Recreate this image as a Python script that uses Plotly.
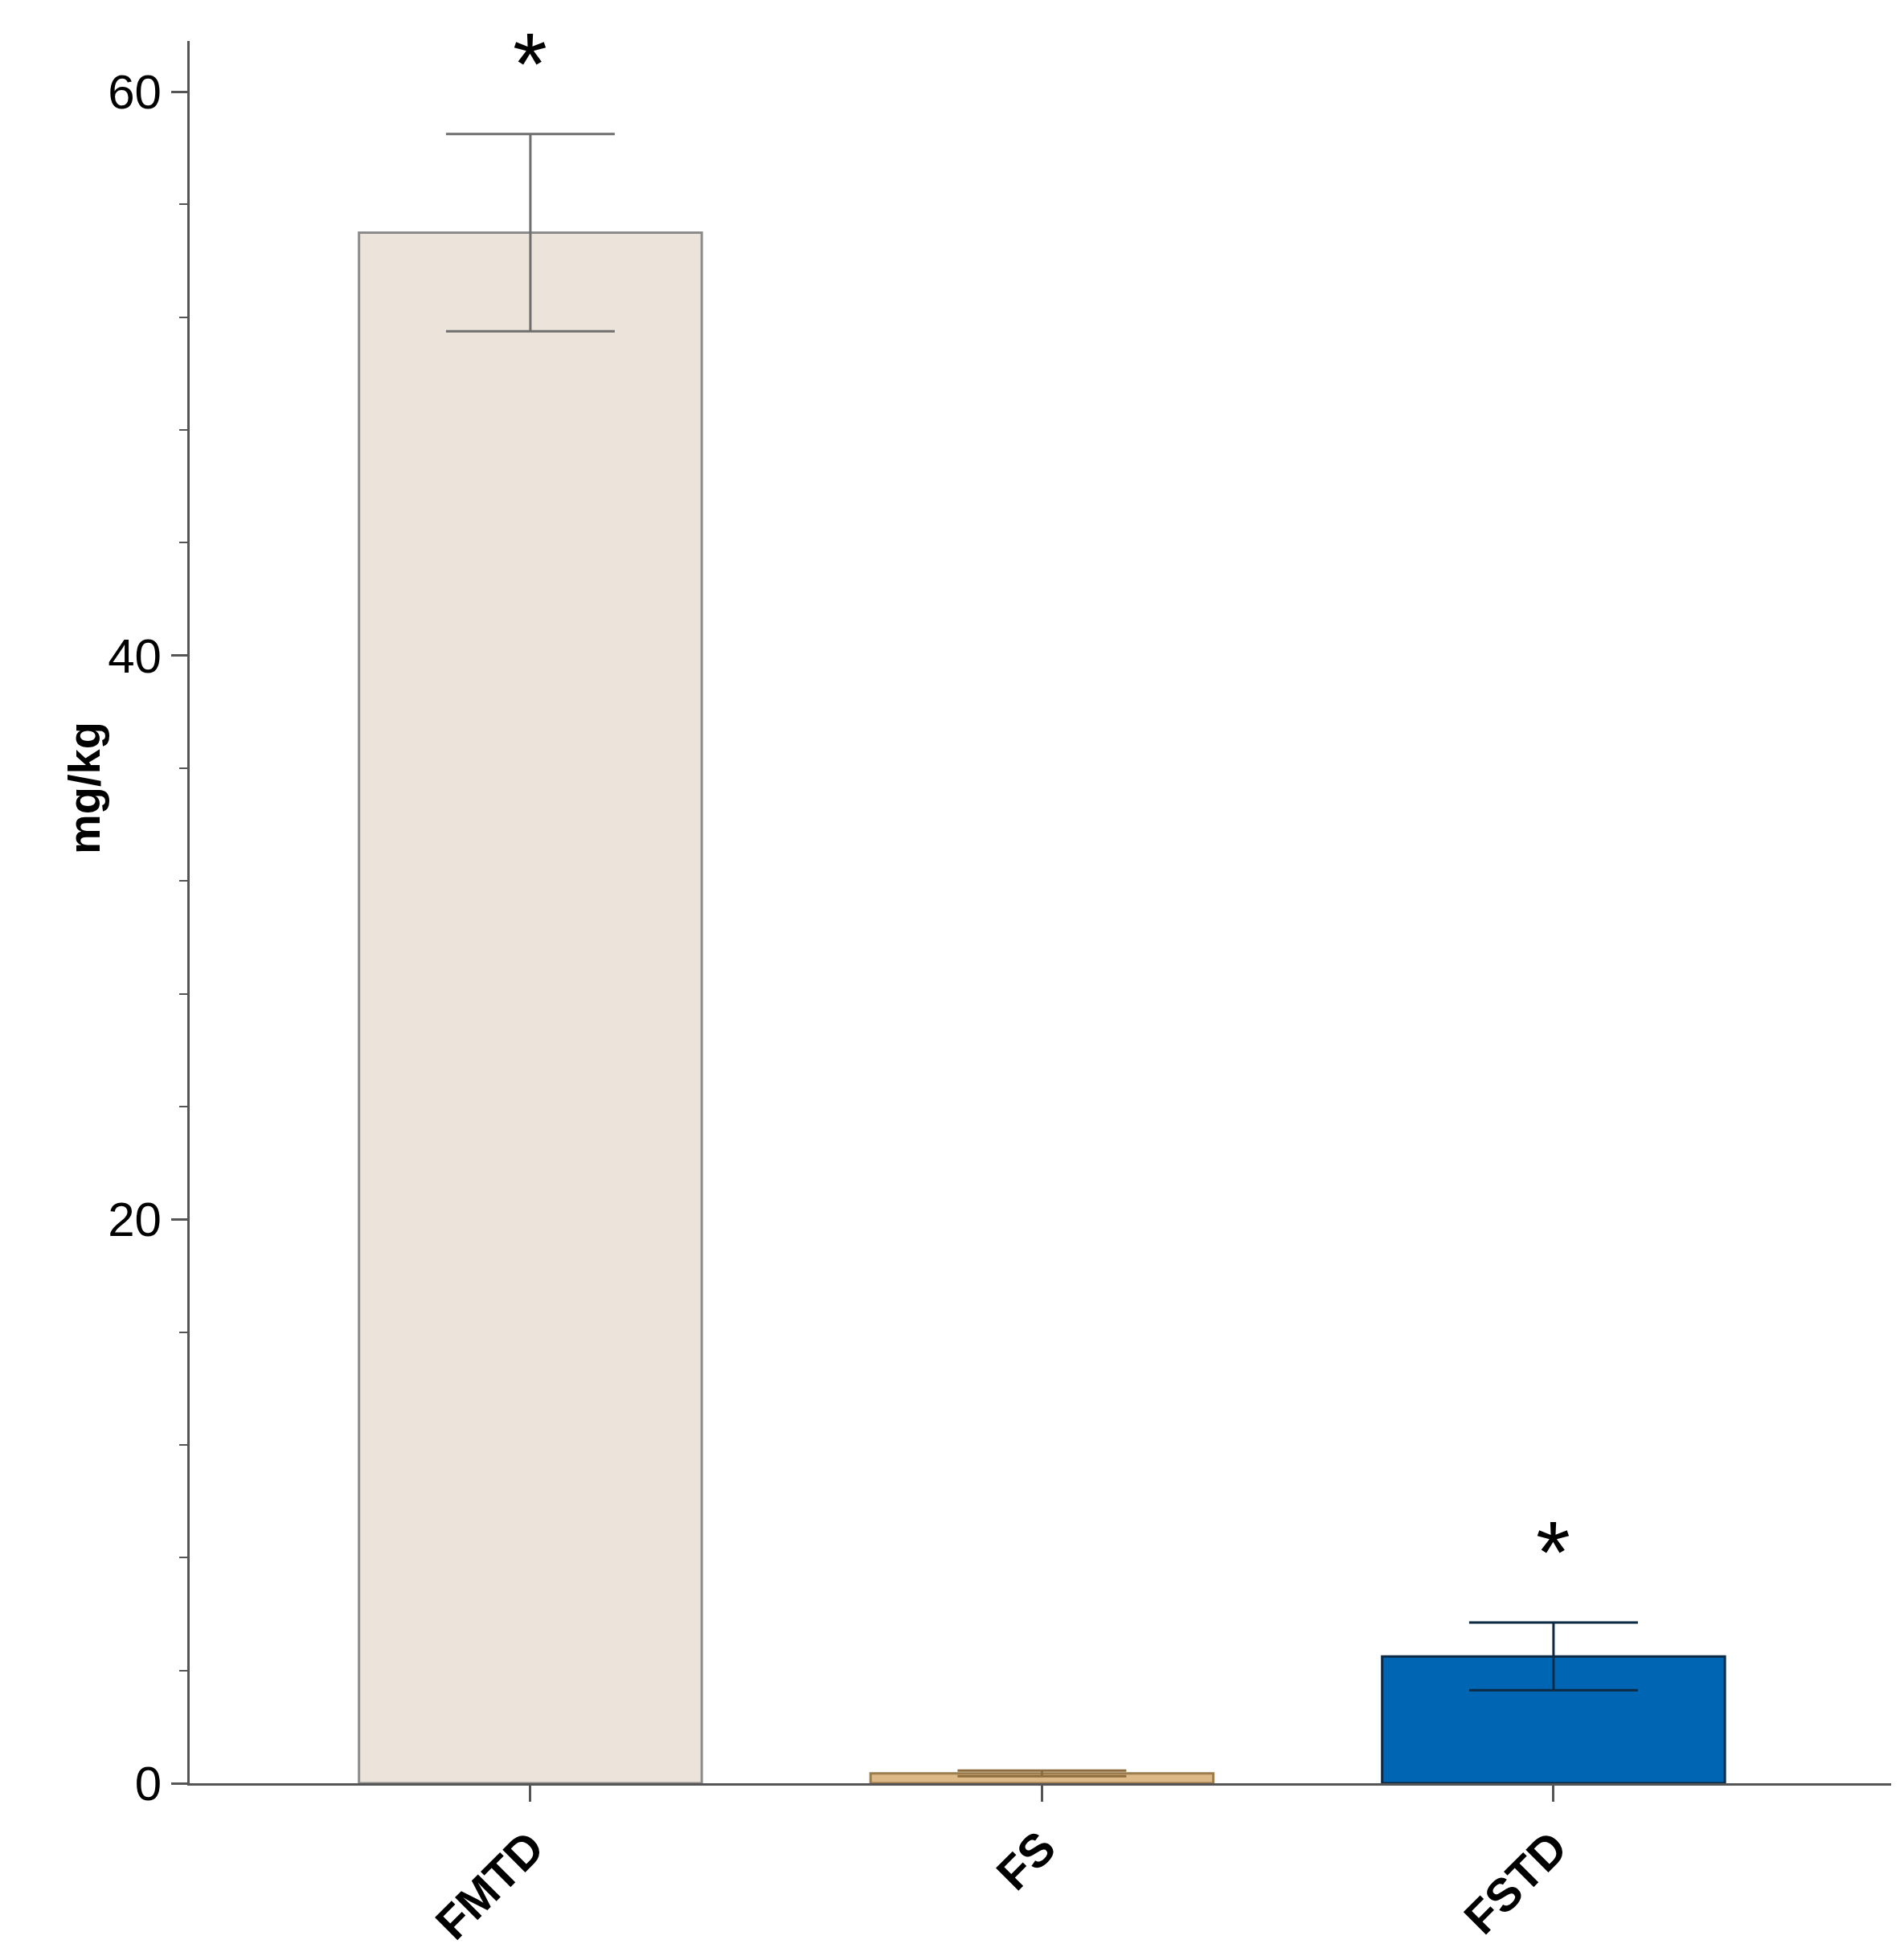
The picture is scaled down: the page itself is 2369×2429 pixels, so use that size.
import plotly.graph_objects as go

categories = ["FMTD", "FS", "FSTD"]
values = [55.0, 0.35, 4.5]
errors = [3.5, 0.1, 1.2]
stars = ["*", "", "*"]

fill_colors = ["#ECE3DA", "#DDB987", "#0066B3"]
line_colors = ["#8C8C8C", "#9C7B4C", "#0D2A45"]
err_colors = ["#6E6E6E", "#8C6C3C", "#0D2A45"]

fig = go.Figure()
for i, c in enumerate(categories):
    fig.add_trace(go.Bar(
        x=[c], y=[values[i]], width=0.67,
        marker=dict(color=fill_colors[i], line=dict(color=line_colors[i], width=3)),
        error_y=dict(type="data", array=[errors[i]], visible=True,
                     color=err_colors[i], thickness=3, width=105),
        showlegend=False))
    if stars[i]:
        fig.add_annotation(x=c, y=values[i] + errors[i], yshift=25, text=stars[i],
                           showarrow=False, yanchor="bottom",
                           font=dict(size=110, color="black", family="Liberation Sans"))

fig.add_annotation(xref="paper", x=-0.078, y=35.3, text="<b>mg/kg</b>", textangle=-90,
                   showarrow=False, font=dict(size=56, color="black", family="Liberation Sans"))

fig.update_layout(
    width=2369, height=2429, plot_bgcolor="white", paper_bgcolor="white",
    margin=dict(l=228, r=24, t=43, b=206),
    font=dict(family="Liberation Sans", color="black"),
    bargap=0.33,
)
fig.update_xaxes(range=[-0.666, 2.66], showline=True, linecolor="#555", linewidth=3,
                 ticks="outside", ticklen=20, tickwidth=3, tickcolor="#555",
                 tickangle=-45, tickfont=dict(size=58, family="Liberation Sans"),
                 ticktext=["<b>%s</b>" % c for c in categories], tickvals=categories)
fig.update_yaxes(range=[0, 61.8], showline=True, linecolor="#555", linewidth=3,
                 showgrid=False, zeroline=False, tickvals=[0, 20, 40, 60],
                 ticks="outside", ticklen=20, tickwidth=3, tickcolor="#555",
                 tickfont=dict(size=60),
                 minor=dict(dtick=4, tick0=0, ticks="outside", ticklen=10, tickwidth=2, tickcolor="#555"))

fig.write_html("out.html")
